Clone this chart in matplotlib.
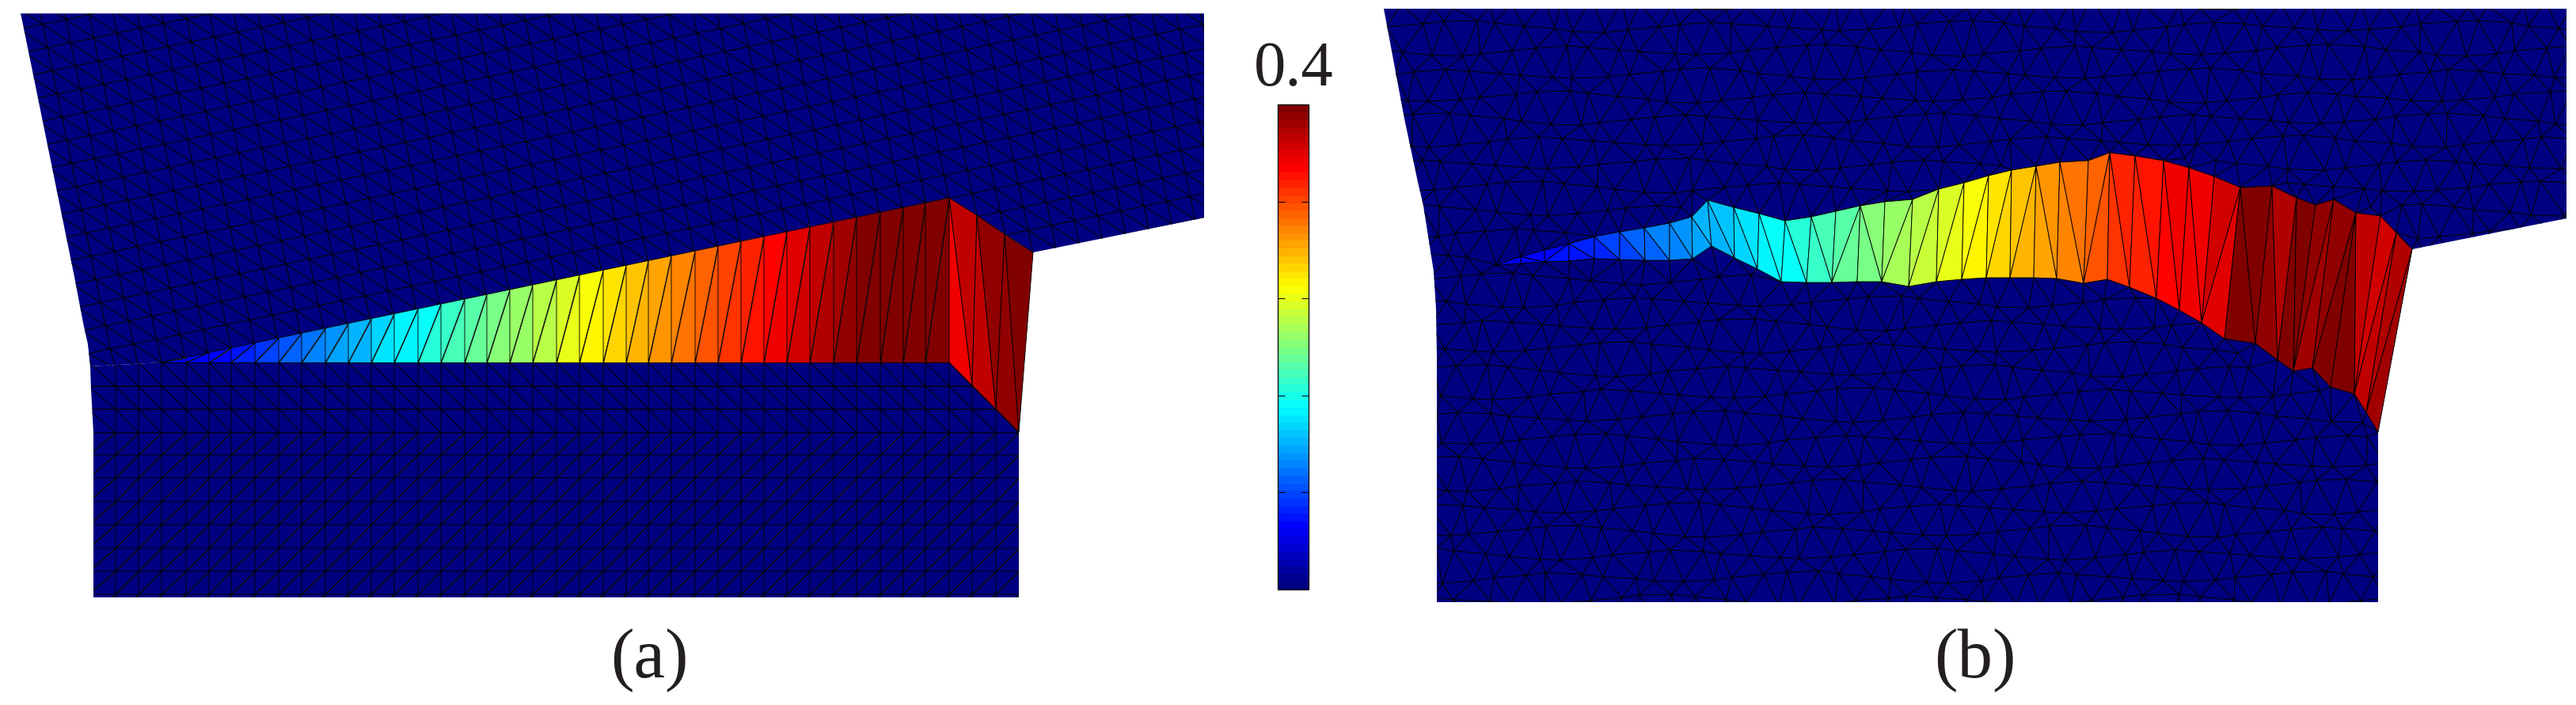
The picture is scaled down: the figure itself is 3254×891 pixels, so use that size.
import numpy as np
import matplotlib
matplotlib.use('Agg')
import matplotlib.pyplot as plt
import matplotlib.tri as mtri
from matplotlib.colors import LinearSegmentedColormap
from matplotlib.patches import Polygon
from matplotlib.path import Path
from matplotlib.cm import ScalarMappable

# everything is in image pixels
W, H = 3255, 891

# ---- panel (a) ----
a_outline_up = [(26, 17), (1521, 17), (1521, 275), (1305, 319), (1199, 250), (204, 458), (114, 463),
                (111, 435), (105, 408), (94, 350), (29, 31)]
a_outline_low = [(114, 463), (204, 458), (1199, 458), (1287, 546), (1287, 755), (118, 755), (118, 547),
                 (115, 492)]
a_crack_x = [204, 235, 264, 292, 322, 352, 381, 411, 440, 469, 498, 528, 557, 587, 615, 644, 673, 703,
             732, 762, 791, 819, 848, 878, 907, 936, 965, 994, 1023, 1053, 1082, 1112, 1141, 1169, 1199]
a_low_y = [458, 488, 517, 547, 575, 604, 634, 663, 693, 722, 751, 780]
a_left_x = [112, 146, 175]
a_right_x = [1228, 1258, 1287]
# strain of the two triangles in each slice, tip to corner (fraction of colour scale)
a_strain = [.11, .12, .12, .13, .13, .14, .15, .17, .18, .20, .21, .23, .24, .26, .27, .29, .30, .31,
            .33, .35, .36, .37, .39, .41, .43, .44, .46, .47, .49, .50, .52, .53, .55, .56, .58, .60,
            .61, .63, .65, .66, .68, .70, .71, .73, .74, .76, .78, .79, .81, .82, .84, .85, .87, .88,
            .90, .92, .93, .95, .96, .98, .99, 1., 1., 1., 1., 1., 1., 1.]
a_fan_top = [(1199, 250), (1234, 272), (1269, 296), (1305, 319)]
a_fan_bot = [(1199, 458), (1228, 487), (1258, 517), (1287, 546)]
a_fan_strain = [.88, .93, .93, .97, .97, 1.]

# ---- panel (b) ----
b_outline = [(1748, 11), (3242, 11), (3242, 276), (3047, 315), (3004, 546), (3004, 761), (1815, 761),
             (1815, 450), (1814, 390), (1811, 343), (1798, 260), (1791, 230), (1774, 150)]
b_tip = (1890, 335)
b_up_x = [1921, 1951, 1982, 2014, 2046, 2077, 2109, 2137, 2157, 2190, 2222, 2255, 2288, 2319, 2350, 2381,
          2416, 2449, 2481, 2512, 2541, 2572, 2602, 2638, 2665, 2697, 2733, 2765, 2797, 2830, 2870, 2901,
          2925, 2948, 2976, 3007, 3027, 3047]
b_up_y = [324, 316, 308, 299, 293, 288, 282, 274, 253, 262, 270, 279, 274, 267, 260, 255,
          252, 239, 231, 222, 215, 210, 205, 203, 193, 197, 203, 212, 223, 237, 235, 250,
          259, 252, 269, 273, 294, 315]
b_low_x = [1921, 1951, 1982, 2014, 2046, 2078, 2109, 2138, 2162, 2191, 2220, 2250, 2282, 2314, 2346, 2377,
           2411, 2446, 2478, 2509, 2539, 2569, 2598, 2632, 2662, 2690, 2724, 2753, 2781, 2810, 2849, 2877,
           2897, 2921, 2944, 2974, 2989, 3004]
b_low_y = [333, 331, 330, 327, 328, 329, 329, 327, 311, 326, 340, 356, 357, 357, 356, 356,
           362, 356, 353, 351, 351, 351, 352, 358, 353, 363, 377, 392, 408, 428, 434, 455,
           469, 465, 489, 498, 521, 546]
# which way each slice is split: u = upper-left to lower-right, d = lower-left to upper-right
b_diag = 'ud' + 'uuuuuuuuuuu' + 'dudddddd' + 'uuduuuud' + 'uuu' + 'dd' + 'u' + 'dd'
b_strain = [.12, .13, .14, .15, .15, .16, .17, .19, .20, .22, .23, .25, .26, .27, .29, .30, .31, .32,
            .34, .35, .36, .38, .39, .41, .43, .44, .46, .47, .49, .50, .52, .54, .56, .57, .59, .60,
            .61, .63, .65, .67, .68, .70, .71, .72, .74, .76, .78, .79, .82, .83, .84, .85, .86, .875,
            .88, .89, .91, .90, 1., 1., .97, .95, 1., .99, .98, .96, .98, 1., 1., .93, .92, .93, .94, .96]
b_tip_strain = .12
# small offsets that give the free mesh of (b) its uneven look; rough, not node by node
b_row_y = [4, 33, 63, 93, 122, 150, 178, 207, 236, 265, 294, 323, 352, 381, 410, 439, 468, 497, 526, 555,
           584, 613, 642, 671, 700, 729, 758, 787]
b_wave = [0, 2, 5, 6, 4, 1, -3, -6, -7, -4, 0, 3, 7, 8, 5, 1, -2, -5, -3]
b_shift = [3, -5, 2, -7, 6, -1, 8, -4, 0, 5, -6, 1, -3]

# ---- colour bar and labels ----
cbar_box = [1614, 132, 1653, 745]
cbar_ticks = [.08, .16, .24, .32]
cbar_label = '0.4'
labels = ['(a)', '(b)']
label_x = [820, 2495]

LW = 0.64
jet64 = LinearSegmentedColormap.from_list(
    'matlab_jet', [(0, (0, 0, .5)), (.125, (0, 0, 1)), (.375, (0, 1, 1)), (.625, (1, 1, 0)),
                   (.875, (1, 0, 0)), (1, (.5, 0, 0))], N=64)

plt.rcParams['font.family'] = ['Liberation Serif', 'DejaVu Serif']
fig = plt.figure(figsize=(W / 100, H / 100), dpi=100)
ax = fig.add_axes([0, 0, 1, 1])
ax.set_xlim(0, W)
ax.set_ylim(H, 0)
ax.axis('off')


def mesh(x, y, tris, vals, clip=None, z=2):
    tr = mtri.Triangulation(np.array(x, float), np.array(y, float), np.array(tris))
    col = ax.tripcolor(tr, facecolors=np.array(vals, float), cmap=jet64, vmin=0, vmax=1,
                       edgecolor='k', linewidth=LW, zorder=z)
    if clip is not None:
        patch = Polygon(clip, closed=True, transform=ax.transData)
        col.set_clip_path(patch)
    return col


# (a) upper block, a tilted regular grid
dx, dy = 29.26, 6.1
ni, nj = 72, 30
xs, ys = [], []
for i in range(-12, ni - 12):
    for j in range(-10, nj - 10):
        px = a_crack_x[0] + i * dx - j * dy
        py = a_low_y[0] - i * dy - j * 29.3
        if i < 0:
            py = min(py, 464)
        xs.append(px)
        ys.append(py)
tris = []
for i in range(ni - 1):
    for j in range(nj - 1):
        n = i * nj + j
        tris.append([n, n + nj, n + 1])
        tris.append([n + nj, n + nj + 1, n + 1])
mesh(xs, ys, tris, np.zeros(len(tris)), a_outline_up)

# (a) lower block
cols = a_left_x + a_crack_x + a_right_x
xs, ys = [], []
for c in cols:
    for r in a_low_y:
        xs.append(c)
        ys.append(r)
nr = len(a_low_y)
tris = []
for i in range(len(cols) - 1):
    for j in range(nr - 1):
        n = i * nr + j
        if j < 3:
            tris.append([n, n + nr + 1, n + 1])
            tris.append([n, n + nr, n + nr + 1])
        else:
            tris.append([n, n + nr, n + 1])
            tris.append([n + nr, n + nr + 1, n + 1])
mesh(xs, ys, tris, np.zeros(len(tris)), a_outline_low)

# (a) opened band
slope = (a_fan_top[0][1] - a_low_y[0]) / (a_crack_x[-1] - a_crack_x[0])
top_y = [a_low_y[0] + (c - a_crack_x[0]) * slope for c in a_crack_x]
n = len(a_crack_x)
xs = a_crack_x + a_crack_x
ys = top_y + [a_low_y[0]] * n
tris = []
for i in range(n - 1):
    tris.append([n + i, i, i + 1])
    tris.append([n + i, n + i + 1, i + 1])
mesh(xs, ys, tris, a_strain, z=3)

xs = [p[0] for p in a_fan_top] + [p[0] for p in a_fan_bot]
ys = [p[1] for p in a_fan_top] + [p[1] for p in a_fan_bot]
tris = []
for i in range(3):
    tris.append([4 + i, i, 4 + i + 1])
    tris.append([i, 4 + i + 1, i + 1])
mesh(xs, ys, tris, a_fan_strain, z=3)

# (b) free mesh, triangulated around the band
xs, ys = [], []
band = Path(list(zip(b_up_x, b_up_y)) + list(zip(b_low_x[::-1], b_low_y[::-1])) + [b_tip])
for j, r in enumerate(b_row_y):
    for i in range(46):
        px = 1742 + i * 33.5 + (16 if j % 2 else 0) + b_shift[(i + 3 * j) % len(b_shift)]
        py = r + b_wave[(i + 5 * j) % len(b_wave)]
        if band.contains_point((px, py), radius=16) or band.contains_point((px, py), radius=-16):
            continue
        xs.append(px)
        ys.append(py)
xs += b_up_x + b_low_x + [b_tip[0]]
ys += b_up_y + b_low_y + [b_tip[1]]
tr = mtri.Triangulation(xs, ys)
mesh(xs, ys, tr.triangles, np.zeros(len(tr.triangles)), b_outline)

# (b) opened band
m = len(b_up_x)
xs = b_up_x + b_low_x + [b_tip[0]]
ys = b_up_y + b_low_y + [b_tip[1]]
tris = [[2 * m, 0, m]]
vals = [b_tip_strain]
for k in range(m - 1):
    if b_diag[k] == 'u':
        tris.append([k, m + k, m + k + 1])
        tris.append([k, k + 1, m + k + 1])
    else:
        tris.append([k, m + k, k + 1])
        tris.append([m + k, m + k + 1, k + 1])
    vals += [b_strain[2 * k], b_strain[2 * k + 1]]
mesh(xs, ys, tris, vals, z=3)

# colour bar
x0, y0, x1, y1 = cbar_box
cax = fig.add_axes([x0 / W, 1 - y1 / H, (x1 - x0) / W, (y1 - y0) / H])
sm = ScalarMappable(cmap=jet64, norm=plt.Normalize(0, .4))
cb = fig.colorbar(sm, cax=cax)
cb.set_ticks(cbar_ticks)
cb.ax.tick_params(axis='y', direction='in', length=6.5, width=.7, left=True, right=True,
                  labelleft=False, labelright=False)
cb.outline.set_linewidth(.9)

ax.text((x0 + x1) / 2 + 1, 108, cbar_label, fontsize=58, ha='center', va='baseline', color='#231f20')
for t, lx in zip(labels, label_x):
    ax.text(lx, 856, t, fontsize=64, ha='center', va='baseline', color='#231f20')

fig.savefig('out.png', dpi=100)
